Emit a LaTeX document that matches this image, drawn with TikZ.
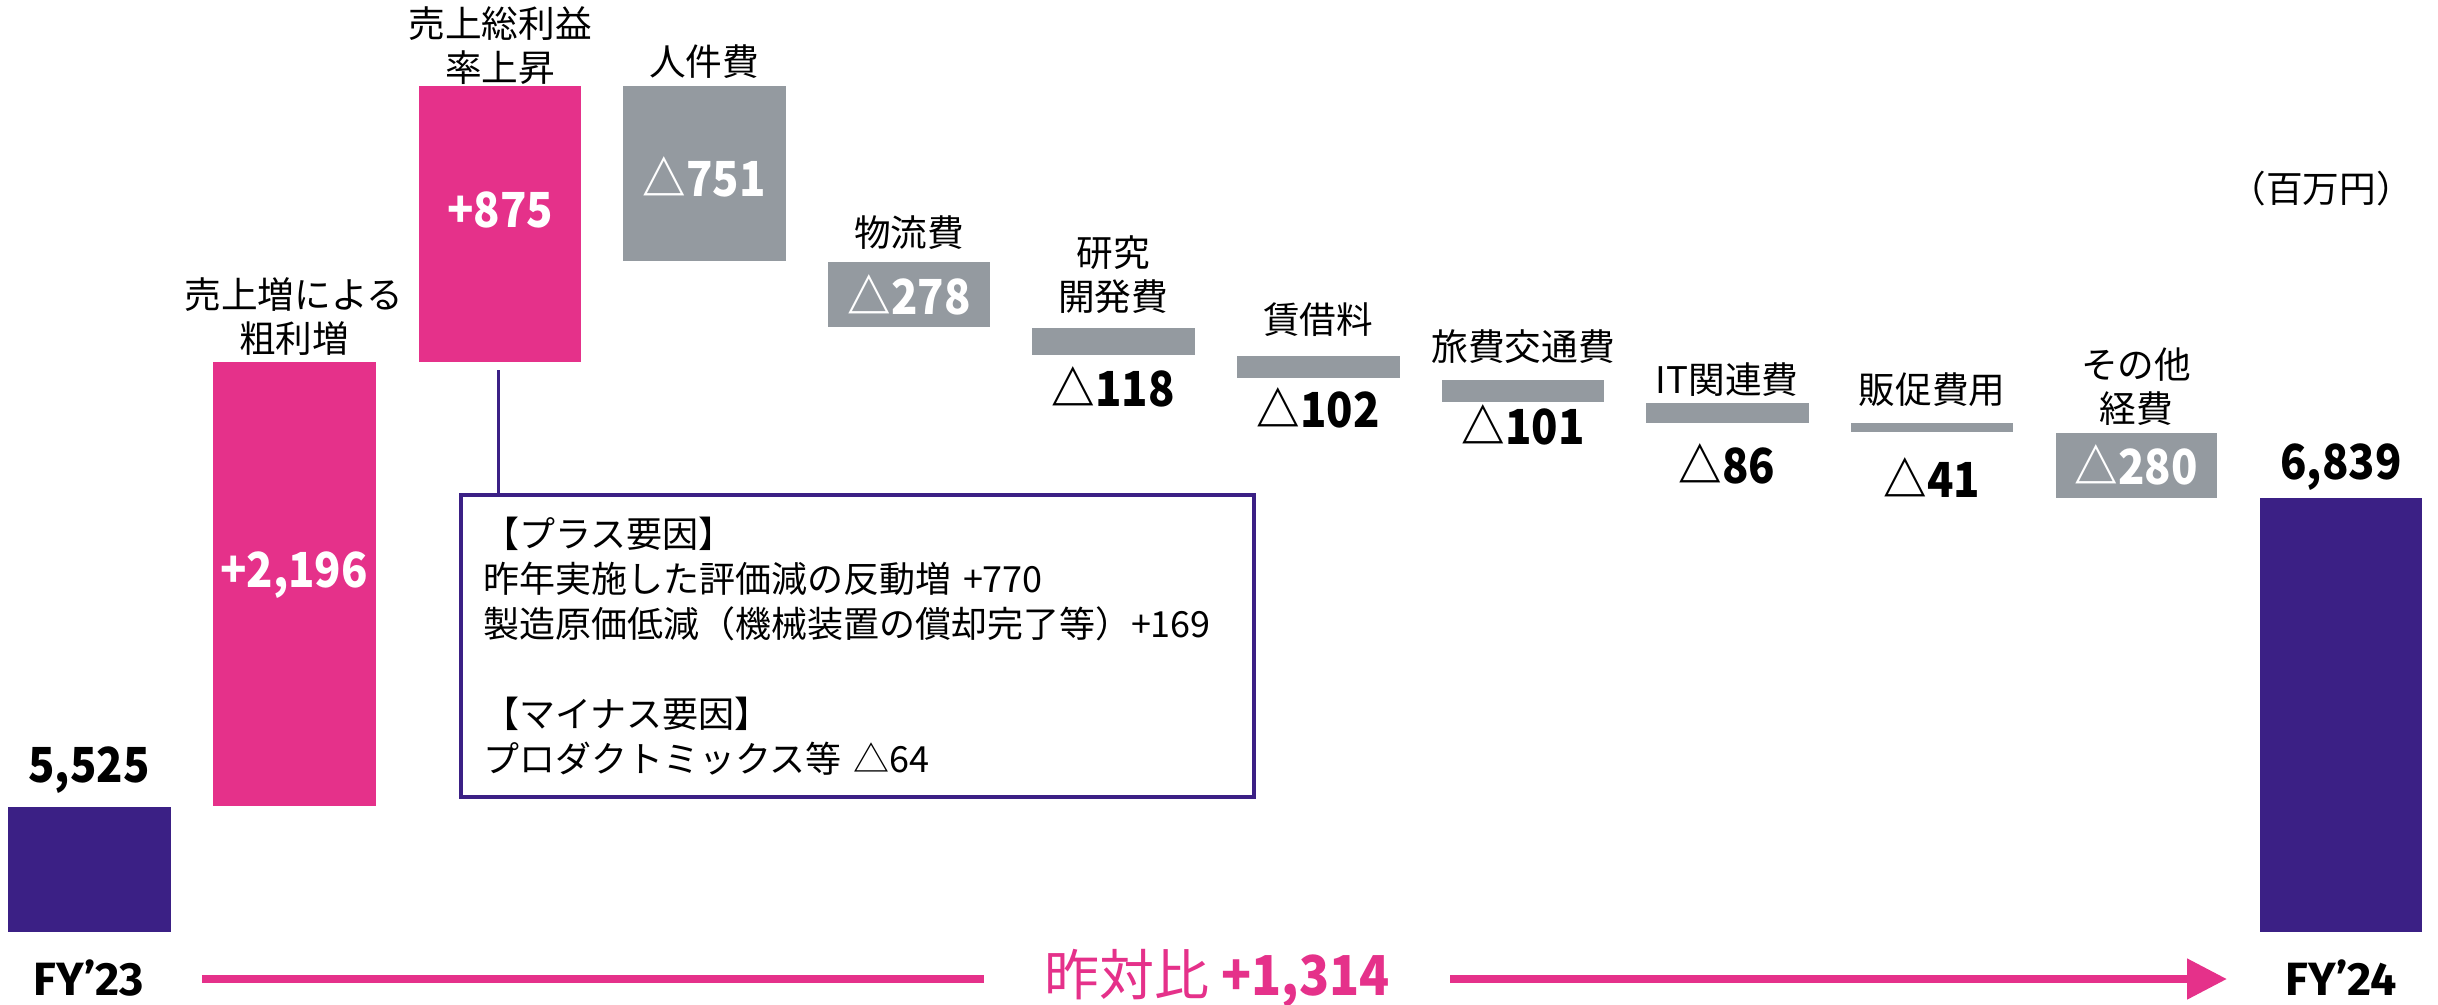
\documentclass[tikz,border=0pt]{standalone}
\usepackage{fontspec}
\setmainfont{Noto Sans CJK JP}
\newfontfamily\numfont[FakeStretch=0.9]{Noto Sans CJK JP}
\newfontfamily\latinsans{Fira Sans}
\usepackage{tikz}
\usetikzlibrary{arrows.meta}

\definecolor{fypurple}{RGB}{59,32,133}
\definecolor{uppink}{RGB}{229,49,138}
\definecolor{costgray}{RGB}{148,154,160}

\begin{document}
\begin{tikzpicture}[x=0.3pt,y=0.3pt,yscale=-1,xscale=1,
  lbl/.style={inner sep=0.75pt,align=center,font=\fontsize{11}{13.2}\selectfont},
  num/.style={inner sep=0.75pt,font=\fontsize{14.5}{16}\selectfont\numfont\bfseries},
  wnum/.style={num,text=white},
  fylbl/.style={inner sep=0.75pt,font=\fontsize{14}{16}\selectfont\latinsans\bfseries}]
\useasboundingbox (0,0) rectangle (2438,1004);

%Shape: Rectangle (FY'23)
\fill[fypurple] (8,807) rectangle (171,932);
%Shape: Rectangle (sales growth)
\fill[uppink] (213,362) rectangle (376,806);
%Shape: Rectangle (margin up)
\fill[uppink] (419,86) rectangle (581,362);
%Shape: Rectangle (costs)
\fill[costgray] (623,86) rectangle (786,261);
\fill[costgray] (828,262) rectangle (990,327);
\fill[costgray] (1032,328) rectangle (1195,355);
\fill[costgray] (1237,356) rectangle (1400,378);
\fill[costgray] (1442,380) rectangle (1604,402);
\fill[costgray] (1646,403) rectangle (1809,423);
\fill[costgray] (1851,423) rectangle (2013,432);
\fill[costgray] (2056,433) rectangle (2217,498);
%Shape: Rectangle (FY'24)
\fill[fypurple] (2260,498) rectangle (2422,932);

% Text Node
\draw (294,317) node (salesup) [lbl] {売上増による\\粗利増};
\draw (500,46) node (marginup) [lbl] {売上総利益\\率上昇};
\draw (704,62) node (labor) [lbl] {人件費};
\draw (909,233) node (logist) [lbl] {物流費};
\draw (1113,275) node (rnd) [lbl] {研究\\開発費};
\draw (1318,320) node (rent) [lbl] {賃借料};
\draw (1523,347) node (travel) [lbl] {旅費交通費};
\draw (1727,380) node (itcost) [lbl] {IT関連費};
\draw (1932,390) node (promo) [lbl] {販促費用};
\draw (2136,387) node (other) [lbl] {その他\\経費};
\draw (2321,189) node (unit) [lbl] {（百万円）};

% Text Node (values)
\draw (89,770) node (v23) [num] {5,525};
\draw (294,575) node (vsales) [wnum] {+2,196};
\draw (500,210) node (vmargin) [wnum] {+875};
\draw (704,177) node (vlabor) [wnum] {△751};
\draw (909,295) node (vlogist) [wnum] {△278};
\draw (1113,387) node (vrnd) [num] {△118};
\draw (1318,408) node (vrent) [num] {△102};
\draw (1523,425) node (vtravel) [num] {△101};
\draw (1727,464) node (vit) [num] {△86};
\draw (1932,478) node (vpromo) [num] {△41};
\draw (2136,465) node (vother) [wnum] {△280};
\draw (2341,467) node (v24) [num] {6,839};

% Text Node (years)
\draw (89,978) node (fy23) [fylbl] {FY’23};
\draw (2341,978) node (fy24) [fylbl] {FY’24};

% Callout
\draw (857.5,646) node (factors) [draw=fypurple,line width=1.2pt,fill=white,
  minimum width=237.9pt,minimum height=87.6pt,inner sep=6.6pt,text width=224.7pt,
  align=left,font=\fontsize{10.8}{13.5}\selectfont]
  {【プラス要因】\\
   昨年実施した評価減の反動増 +770\\
   製造原価低減（機械装置の償却完了等）+169\\[13.5pt]
   【マイナス要因】\\
   プロダクトミックス等 △64};
\coordinate (marginfoot) at (498,370);
%Straight Lines
\draw[fypurple,line width=0.9pt] (marginfoot) -- (marginfoot |- factors.north);

% Arrow
\coordinate (arrstart) at (202,979);
\coordinate (arrend) at (2227,979);
\draw[uppink,line width=2.4pt,-{Triangle[length=12pt,width=11.7pt]}] (arrstart) -- (arrend);
\draw (1217,979) node (yoy) [fill=white,text=uppink,inner xsep=18pt,inner ysep=2pt,
  font=\fontsize{16.5}{20}\selectfont] {昨対比 {\numfont\bfseries +1,314}};

\end{tikzpicture}
\end{document}
